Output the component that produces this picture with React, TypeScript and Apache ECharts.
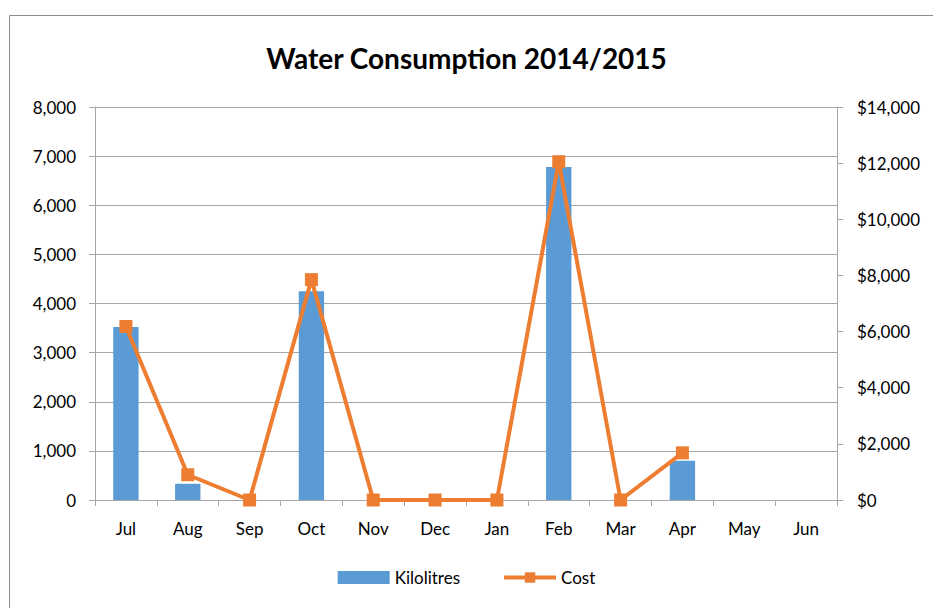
import React, { useEffect, useRef } from "react";
import * as echarts from "echarts";

const months = ["Jul", "Aug", "Sep", "Oct", "Nov", "Dec", "Jan", "Feb", "Mar", "Apr", "May", "Jun"];
const kilolitres: (number | null)[] = [3520, 330, 0, 4250, 0, 0, 0, 6780, 0, 800, null, null];
const cost: (number | null)[] = [6180, 900, 0, 7850, 0, 0, 0, 12050, 0, 1680, null, null];
const leftTicks = { min: 0, max: 8000, interval: 1000 };
const rightTicks = { min: 0, max: 14000, interval: 2000 };

const FONT = "Lato, 'Open Sans', sans-serif";
const AXIS_GREY = "#a6a6a6";

const fmt = (v: number) => v.toLocaleString("en-US");

export default function App() {
  const ref = useRef<HTMLDivElement>(null);
  useEffect(() => {
    if (!ref.current) return;
    const chart = echarts.init(ref.current, undefined, { renderer: "svg" });
    chart.setOption({
      animation: false,
      backgroundColor: "#ffffff",
      title: {
        text: "Water Consumption 2014/2015",
        left: "center",
        top: 39,
        textStyle: { fontFamily: FONT, fontWeight: "bold", fontSize: 28, color: "#000" },
      },
      graphic: [
        { type: "line", shape: { x1: 9.5, y1: 15.5, x2: 933, y2: 15.5 }, style: { stroke: "#8c8c8c", lineWidth: 1 } },
        { type: "line", shape: { x1: 9.5, y1: 15.5, x2: 9.5, y2: 608 }, style: { stroke: "#8c8c8c", lineWidth: 1 } },
      ],
      legend: {
        bottom: 17,
        left: "center",
        itemWidth: 52,
        itemHeight: 13,
        itemGap: 42,
        textStyle: { fontFamily: FONT, fontSize: 17, color: "#000" },
        data: [
          { name: "Kilolitres", icon: "rect" },
          { name: "Cost", lineStyle: { width: 4 } },
        ],
      },
      grid: { left: 95, right: 96, top: 107, bottom: 108, containLabel: false },
      xAxis: {
        type: "category",
        data: months,
        boundaryGap: true,
        axisLine: { lineStyle: { color: AXIS_GREY } },
        axisTick: { show: true, length: 6, lineStyle: { color: AXIS_GREY } },
        axisLabel: { fontFamily: FONT, fontSize: 17, color: "#000", margin: 20 },
      },
      yAxis: [
        {
          type: "value",
          ...leftTicks,
          position: "left",
          axisLine: { show: true, lineStyle: { color: AXIS_GREY } },
          axisTick: { show: true, length: 6, lineStyle: { color: AXIS_GREY } },
          splitLine: { show: true, lineStyle: { color: AXIS_GREY, width: 1 } },
          axisLabel: { fontFamily: FONT, fontSize: 17, color: "#000", margin: 19, formatter: (v: number) => fmt(v) },
        },
        {
          type: "value",
          ...rightTicks,
          position: "right",
          axisLine: { show: true, lineStyle: { color: AXIS_GREY } },
          axisTick: { show: true, length: 6, lineStyle: { color: AXIS_GREY } },
          splitLine: { show: false },
          axisLabel: { fontFamily: FONT, fontSize: 17, color: "#000", margin: 20, formatter: (v: number) => "$" + fmt(v) },
        },
      ],
      series: [
        {
          name: "Kilolitres",
          type: "bar",
          data: kilolitres,
          yAxisIndex: 0,
          barWidth: "41%",
          itemStyle: { color: "#5b9bd5" },
        },
        {
          name: "Cost",
          type: "line",
          data: cost,
          yAxisIndex: 1,
          symbol: "rect",
          symbolSize: 13,
          lineStyle: { color: "#ed7d31", width: 4 },
          itemStyle: { color: "#ed7d31" },
          connectNulls: false,
        },
      ],
    });
    return () => chart.dispose();
  }, []);
  return <div ref={ref} style={{ position: "fixed", left: 0, top: 0, width: 933, height: 608 }} />;
}
